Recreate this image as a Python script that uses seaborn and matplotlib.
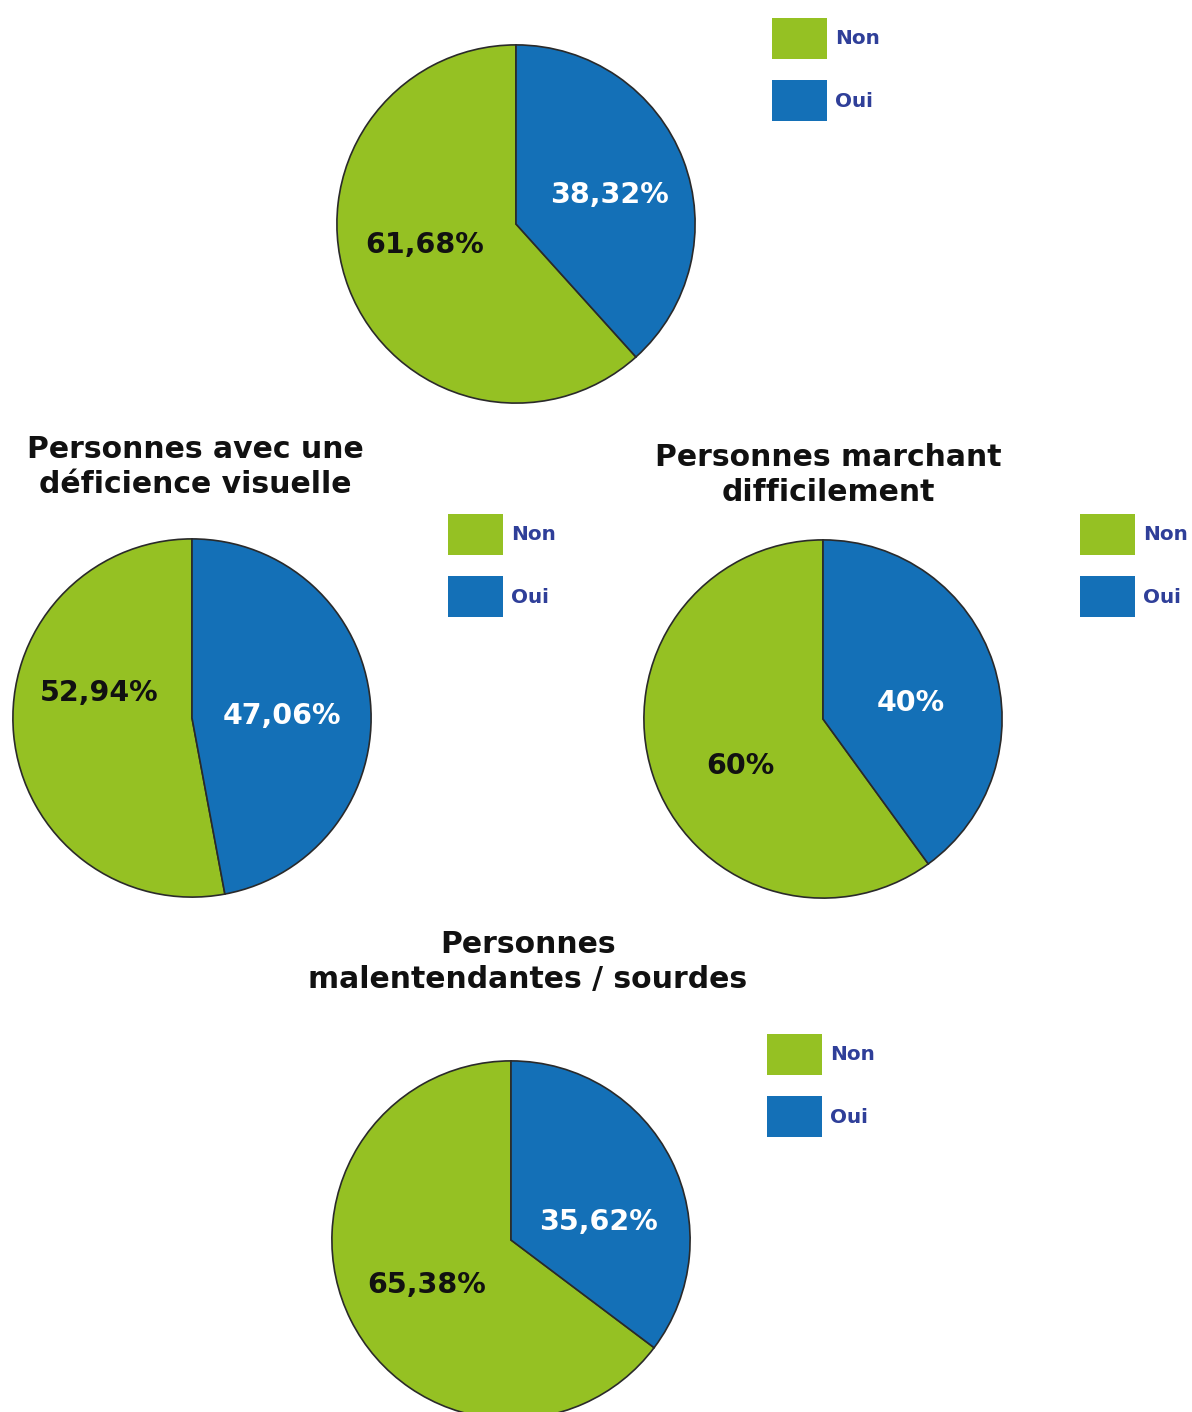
import matplotlib
matplotlib.use("Agg")
import matplotlib.pyplot as plt
import seaborn as sns

sns.set_theme(style="white")
plt.rcParams['font.family'] = ['DejaVu Sans']

# ---- data ----
categories = ["Non", "Oui"]
titles = ["", "Personnes avec une\ndéficience visuelle",
          "Personnes marchant\ndifficilement",
          "Personnes\nmalentendantes / sourdes"]
non_values = [61.68, 52.94, 60.0, 65.38]
oui_values = [38.32, 47.06, 40.0, 35.62]

colors = ["#95c123", "#1470b7"]
label_colors = ["#111111", "white"]
legend_text_color = "#2f3f99"

W, H = 1192, 1412
fig = plt.figure(figsize=(W / 100, H / 100), dpi=100)
fig.patch.set_facecolor("white")

# centre x, centre y, radius, legend x, legend y, title centre (x, y)  -- pixels
layout = [
    (516, 224, 180, 772, 18, None),
    (192, 718, 180, 448, 514, (195, 467)),
    (823, 719, 180, 1080, 514, (828, 475)),
    (511, 1240, 180, 767, 1034, (528, 962)),
]
# label placement inside each pie (radius units): (Non, Oui)
label_pos = [
    ((-0.51, -0.12), (0.52, 0.16)),
    ((-0.52, 0.14), (0.50, 0.01)),
    ((-0.46, -0.26), (0.49, 0.09)),
    ((-0.47, -0.25), (0.49, 0.10)),
]


def fmt(v):
    s = f"{v:.2f}".rstrip("0").rstrip(".")
    return s.replace(".", ",") + "%"


for i, (cx, cy, r, lx, ly, tpos) in enumerate(layout):
    ax = fig.add_axes([(cx - r) / W, 1 - (cy + r) / H, 2 * r / W, 2 * r / H])
    vals = [non_values[i], oui_values[i]]
    wedges, texts = ax.pie(
        vals, colors=colors, startangle=90, counterclock=True,
        labels=[fmt(v) for v in vals], labeldistance=0.55,
        wedgeprops=dict(edgecolor="#2a2a2a", linewidth=1.2),
        textprops=dict(fontsize=20.5, fontweight="bold"),
    )
    for t, c, p in zip(texts, label_colors, label_pos[i]):
        t.set_color(c)
        t.set_position(p)
        t.set_horizontalalignment("center")
        t.set_verticalalignment("center")
    ax.set_xlim(-1.005, 1.005)
    ax.set_ylim(-1.005, 1.005)
    ax.set_aspect("equal")
    ax.axis("off")

    leg = ax.legend(
        wedges, categories, loc="upper left",
        bbox_to_anchor=(lx / W, 1 - ly / H), bbox_transform=fig.transFigure,
        frameon=False, fontsize=14.4, borderpad=0, borderaxespad=0,
        handlelength=2.75, handleheight=2.78, labelspacing=1.05,
        handletextpad=0.4,
    )
    for t in leg.get_texts():
        t.set_color(legend_text_color)
        t.set_fontweight("bold")
    for h in leg.legend_handles:
        h.set_edgecolor("none")

    if tpos is not None and titles[i]:
        fig.text(tpos[0] / W, 1 - tpos[1] / H, titles[i], ha="center",
                 va="center", fontsize=21.5, fontweight="bold",
                 color="#111111", linespacing=1.22)

fig.savefig("out.png", dpi=100, facecolor="white")
